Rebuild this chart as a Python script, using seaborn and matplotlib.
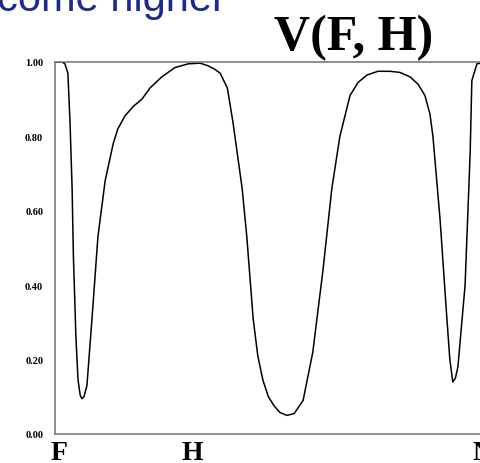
import matplotlib
matplotlib.use("Agg")
import matplotlib.pyplot as plt
import seaborn as sns
import pandas as pd

# Position along the sequence (F = 0, N = 100) and value V(F, H)
position = [-0.9, 0.7, 1.4, 2.1, 2.6, 3.1, 3.4, 4.0, 4.5, 5.0, 5.4, 5.9, 6.6, 7.8,
            9.2, 10.9, 12.8, 13.9, 15.6, 17.5, 19.6, 21.5, 24.3, 27.4, 30.5, 33.3,
            35.2, 36.6, 38.1, 39.8, 41.1, 43.3, 44.4, 45.9, 47.0, 48.2, 49.5, 50.9, 52.2,
            53.9, 55.6, 57.7, 60.0, 62.4, 64.5, 66.4, 68.8, 70.7, 72.8, 75.4,
            78.3, 80.6, 83.0, 84.9, 86.5, 87.7, 88.4, 90.1, 91.7, 92.4, 93.1,
            93.7, 94.3, 96.0, 97.2, 97.6, 98.8, 101.0]
value = [1.00, 1.00, 0.995, 0.97, 0.84, 0.66, 0.48, 0.26, 0.145, 0.105, 0.095, 0.10, 0.13, 0.31,
         0.53, 0.68, 0.78, 0.82, 0.855, 0.88, 0.90, 0.93, 0.96, 0.985, 0.995, 0.997,
         0.99, 0.982, 0.97, 0.93, 0.84, 0.66, 0.53, 0.31, 0.21, 0.145, 0.10, 0.075, 0.058,
         0.05, 0.055, 0.09, 0.22, 0.44, 0.66, 0.80, 0.91, 0.945, 0.965, 0.975,
         0.975, 0.972, 0.96, 0.94, 0.91, 0.86, 0.80, 0.575, 0.31, 0.20, 0.14,
         0.15, 0.18, 0.40, 0.755, 0.95, 0.995, 1.00]

x_tick_pos = [0, 31.4, 100]
x_tick_labels = ["F", "H", "N"]
y_ticks = [0.0, 0.2, 0.4, 0.6, 0.8, 1.0]
y_tick_labels = ["0.00", "0.20", "0.40", "0.60", "0.80", "1.00"]

df = pd.DataFrame({"position": position, "value": value})

sns.set_style("white")
plt.rcParams["font.family"] = ["Liberation Serif", "DejaVu Serif"]
plt.rcParams["text.color"] = "black"
plt.rcParams["xtick.color"] = "black"
plt.rcParams["ytick.color"] = "black"

W, H = 481, 464
fig = plt.figure(figsize=(W / 100, H / 100), dpi=100)
fig.patch.set_facecolor("white")

left_px, right_px, top_px, bottom_px = 55, 495, 63, 435
ax = fig.add_axes([left_px / W, (H - bottom_px) / H,
                   (right_px - left_px) / W, (bottom_px - top_px) / H])

sns.lineplot(data=df, x="position", y="value", ax=ax, color="black",
             linewidth=1.1, sort=False, estimator=None)

px_per_unit = 4.23
x0 = -(59 - left_px) / px_per_unit
x1 = x0 + (right_px - left_px) / px_per_unit
ax.set_xlim(x0, x1)
ax.set_ylim(0, 1)

ax.set_xticks(x_tick_pos)
ax.set_xticklabels(x_tick_labels, fontsize=20, fontweight="bold", color="black")
ax.set_yticks(y_ticks)
ax.set_yticklabels(y_tick_labels, fontsize=7.5, fontweight="bold", color="black")
ax.tick_params(axis="x", length=0, pad=4)
ax.tick_params(axis="y", length=4.5, width=1.0, color="#707070", pad=4, direction="out")
ax.set_xlabel("")
ax.set_ylabel("")

for side in ["left", "top", "bottom"]:
    ax.spines[side].set_visible(True)
    ax.spines[side].set_color("#707070")
    ax.spines[side].set_linewidth(1.1)
ax.spines["right"].set_visible(False)

fig.text(354 / W, (H - 50) / H, "V(F, H)", ha="center", va="baseline",
         fontsize=36, fontweight="bold", color="black",
         family=["Liberation Serif", "DejaVu Serif"])
fig.text(-3 / W, (H - 11) / H, "come higher", ha="left", va="baseline",
         fontsize=30, color="#1c2a8c", family=["Liberation Sans", "DejaVu Sans"])

fig.savefig("out.png", dpi=100, facecolor="white")
